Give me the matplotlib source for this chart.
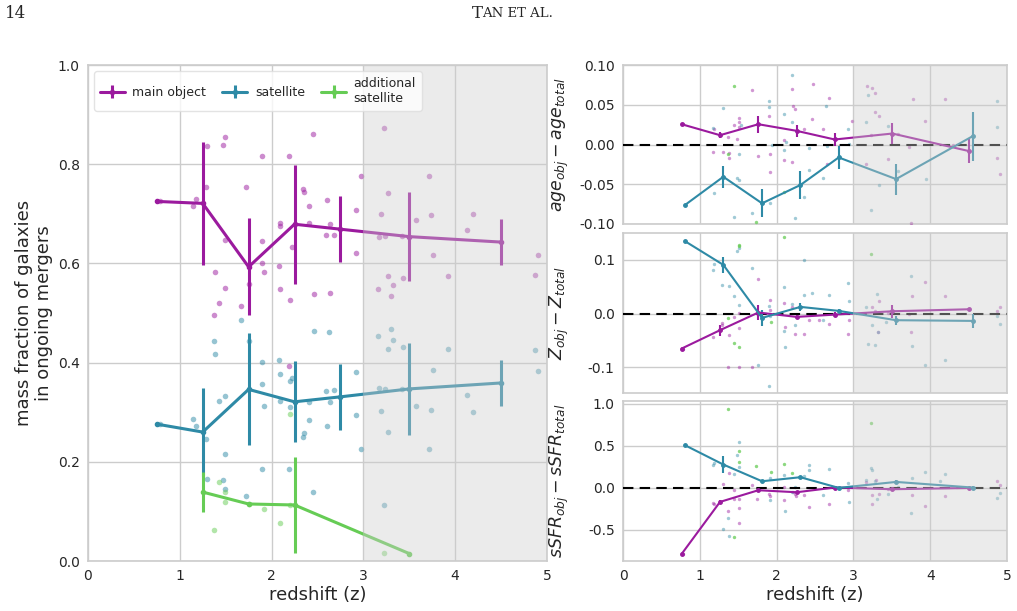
import numpy as np
import matplotlib
matplotlib.use("Agg")
import matplotlib.pyplot as plt
import seaborn as sns

sns.set_style("whitegrid")
plt.rcParams['font.family'] = ['DejaVu Sans']

C_MAIN = '#9b1a9e'
C_SAT = '#2e8aa6'
C_ADD = '#66cc55'

# ---------------- left panel: mass fraction ----------------
z_bins = [0.75, 1.25, 1.75, 2.25, 2.75, 3.5, 4.5]
main_frac = [0.725, 0.721, 0.593, 0.679, 0.669, 0.654, 0.643]
main_frac_err = [0.0, 0.124, 0.098, 0.12, 0.066, 0.089, 0.047]
sat_frac = [0.276, 0.260, 0.346, 0.321, 0.331, 0.347, 0.359]
sat_frac_err = [0.0, 0.088, 0.113, 0.082, 0.067, 0.092, 0.047]
add_z = [1.25, 1.75, 2.25, 3.5]
add_frac = [0.139, 0.115, 0.113, 0.015]
add_frac_err = [0.041, 0.003, 0.096, 0.0]

main_pts_z = [0.784, 1.176, 1.147, 1.293, 1.489, 1.474, 1.282, 1.725, 1.899, 2.193, 2.447, 3.224,
              2.97, 3.718, 3.27, 2.346, 2.357, 2.404, 2.6, 2.923, 3.19, 3.74, 3.573, 4.198, 4.128,
              2.091, 2.091, 2.407, 2.636, 2.593, 2.68, 3.166, 3.232, 3.424, 1.492, 1.892, 2.226,
              2.916, 3.761, 4.898, 4.873, 1.899, 1.913, 2.08, 1.387, 1.496, 1.431, 1.376, 1.663,
              1.75, 2.091, 2.196, 2.465, 2.632, 3.162, 3.268, 3.435, 3.322, 3.304, 3.925, 2.193]
main_pts_f = [0.725, 0.729, 0.716, 0.837, 0.855, 0.838, 0.755, 0.754, 0.817, 0.816, 0.861, 0.872,
              0.776, 0.776, 0.741, 0.751, 0.743, 0.716, 0.728, 0.708, 0.700, 0.697, 0.688, 0.700, 0.667,
              0.681, 0.676, 0.681, 0.680, 0.658, 0.657, 0.653, 0.655, 0.655, 0.647, 0.645, 0.633,
              0.620, 0.616, 0.617, 0.576, 0.600, 0.583, 0.595, 0.583, 0.550, 0.521, 0.497, 0.515,
              0.558, 0.548, 0.526, 0.538, 0.540, 0.548, 0.575, 0.570, 0.556, 0.534, 0.575, 0.394]
sat_pts_z = [1.663, 2.465, 2.629, 3.162, 3.304, 3.322, 3.268, 3.435, 3.925, 4.873, 4.898, 1.376,
             1.387, 1.75, 1.899, 2.08, 2.091, 1.892, 2.196, 2.226, 2.916, 3.761, 4.128, 4.198,
             3.166, 3.232, 3.424, 2.593, 2.68, 1.431, 1.496, 2.091, 1.913, 2.196, 2.407, 2.636,
             3.573, 3.74, 3.19, 2.923, 2.404, 2.6, 1.147, 1.176, 0.784, 1.282, 2.346, 2.357, 3.27,
             2.97, 3.718, 1.492, 1.899, 2.193, 1.293, 1.474, 1.489, 1.725, 2.447, 3.224]
sat_pts_f = [0.486, 0.463, 0.461, 0.453, 0.467, 0.446, 0.427, 0.431, 0.427, 0.425, 0.384, 0.443,
             0.417, 0.444, 0.402, 0.406, 0.378, 0.356, 0.362, 0.368, 0.381, 0.385, 0.334, 0.300,
             0.349, 0.346, 0.346, 0.343, 0.344, 0.322, 0.333, 0.322, 0.3125, 0.310, 0.321, 0.321,
             0.313, 0.304, 0.302, 0.294, 0.285, 0.273, 0.286, 0.273, 0.276, 0.247, 0.251, 0.258, 0.261,
             0.226, 0.226, 0.215, 0.185, 0.185, 0.165, 0.163, 0.146, 0.132, 0.140, 0.113]
add_pts_z = [1.431, 1.492, 1.496, 1.913, 2.196, 2.091, 1.376, 3.224, 2.196, 1.75]
add_pts_f = [0.159, 0.140, 0.118, 0.104, 0.297, 0.076, 0.062, 0.016, 0.113, 0.115]

# ---------------- right panels ----------------
z_main_r = [0.764, 1.263, 1.762, 2.26, 2.756, 3.507, 4.51]
z_sat_r = [0.807, 1.306, 1.81, 2.309, 2.808, 3.555, 4.553]

age_main = [0.0255, 0.0117, 0.0255, 0.0172, 0.0063, 0.0138, -0.0084]
age_main_err = [0.0, 0.0038, 0.0105, 0.0077, 0.008, 0.0134, 0.015]
age_sat = [-0.0761, -0.0406, -0.074, -0.051, -0.0163, -0.0435, 0.0105]
age_sat_err = [0.0, 0.0136, 0.0178, 0.0178, 0.015, 0.0195, 0.031]

Z_main = [-0.0652, -0.031, 0.0019, -0.0062, -0.002, 0.0043, 0.008]
Z_main_err = [0.0, 0.010, 0.0134, 0.003, 0.004, 0.0124, 0.003]
Z_sat = [0.1348, 0.0907, -0.0081, 0.0124, 0.005, -0.0124, -0.0137]
Z_sat_err = [0.0, 0.015, 0.0155, 0.007, 0.004, 0.0084, 0.0124]

sfr_main = [-0.79, -0.171, -0.032, -0.056, 0.0, -0.02, -0.005]
sfr_main_err = [0.0, 0.02, 0.01, 0.01, 0.01, 0.01, 0.01]
sfr_sat = [0.504, 0.274, 0.075, 0.123, -0.004, 0.067, 0.0]
sfr_sat_err = [0.0, 0.10, 0.02, 0.01, 0.01, 0.02, 0.02]

age_pm_z = [1.168, 1.306, 1.18, 1.37, 1.378, 1.378, 1.45, 1.507, 1.51, 1.515, 1.49, 1.68, 1.762, 1.906,
            1.91, 1.91, 2.1, 2.1, 2.205, 2.21, 2.245, 2.205, 2.36, 2.48, 2.456, 2.6, 2.687, 2.65, 2.986,
            3.18, 3.237, 3.277, 3.277, 3.33, 3.17, 3.229, 3.446, 3.586, 3.724, 3.772, 3.934, 3.75,
            4.197, 4.297, 4.874, 4.905, 0.78]
age_pm_v = [-0.0092, -0.010, 0.020, 0.0096, -0.0105, -0.0167, 0.0243, 0.0335, 0.0284, 0.0217, 0.0075,
            0.0681, -0.0142, 0.036, -0.0125, -0.035, 0.0058, -0.020, 0.0702, 0.0485, 0.0452, -0.0226,
            0.020, 0.0765, 0.0318, 0.020, 0.059, -0.025, 0.029, 0.0736, 0.0706, 0.0648, 0.041, 0.0364,
            -0.0247, 0.0125, -0.0188, 0.013, -0.003, 0.0568, 0.029, -0.099, 0.0577, -0.001, -0.0167,
            -0.0376, 0.0255]
age_ps_z = [1.186, 1.306, 1.168, 1.45, 1.483, 1.51, 1.51, 1.533, 1.68, 1.906, 1.906, 1.91, 1.94, 2.1,
            2.1, 2.12, 2.205, 2.205, 2.245, 2.36, 2.418, 2.42, 2.6, 2.64, 2.65, 2.93, 2.937, 3.17, 3.19,
            3.33, 3.229, 3.446, 3.586, 3.94, 4.874, 4.874]
age_ps_v = [-0.0606, 0.046, 0.0209, -0.0907, -0.0418, -0.045, -0.0117, 0.0243, -0.086, 0.0543, 0.0477,
            -0.074, 0.0, 0.0385, -0.0075, 0.0033, 0.0874, 0.0284, -0.092, -0.066, -0.005, -0.0326,
            -0.0418, 0.048, -0.002, 0.0192, 0.001, 0.0284, 0.0619, -0.051, -0.0823, 0.023, -0.0334,
            -0.0435, 0.0543, 0.0217]
age_pa_z = [1.445, 1.37, 1.73, 2.1]
age_pa_v = [0.0736, -0.0117, -0.0974, -0.0594]

Z_pm_z = [1.168, 1.285, 1.29, 1.45, 1.378, 1.51, 1.51, 1.507, 1.37, 1.68, 1.762, 1.91, 1.91, 2.1, 2.11,
          2.205, 2.245, 2.36, 2.418, 2.55, 2.687, 2.93, 2.937, 3.24, 3.277, 3.33, 3.325, 3.446, 3.724,
          3.768, 3.75, 3.934, 4.197, 4.874, 4.905, 0.78]
Z_pm_v = [-0.043, -0.018, -0.022, -0.0056, -0.040, -0.027, 0.0006, -0.0988, -0.100, -0.0994, 0.064,
          0.0255, 0.0068, 0.0205, -0.0248, 0.013, -0.039, -0.0385, -0.0124, -0.0124, -0.0193, -0.0385,
          -0.0118, 0.0118, 0.005, 0.0236, -0.0348, 0.0006, -0.001, 0.0335, -0.034, 0.0596, 0.0323,
          0.0043, 0.0118, -0.0652]
Z_ps_z = [1.168, 1.19, 1.285, 1.378, 1.45, 1.49, 1.507, 1.51, 1.68, 1.762, 1.906, 1.906, 1.91, 2.1, 2.1,
          2.11, 2.205, 2.245, 2.36, 2.36, 2.456, 2.6, 2.687, 2.93, 2.937, 3.17, 3.19, 3.277, 3.31, 3.325,
          3.24, 3.43, 3.75, 3.768, 3.934, 4.197, 4.874, 4.905]
Z_ps_v = [0.0814, 0.093, 0.0528, 0.0516, 0.033, 0.117, 0.123, 0.016, 0.085, -0.0963, 0.0143, -0.135,
          -0.004, 0.0497, -0.032, -0.062, 0.0174, -0.021, 0.1006, 0.0348, 0.039, -0.0124, 0.034, 0.0565,
          0.0242, 0.013, -0.057, -0.058, 0.037, -0.034, -0.022, -0.015, 0.070, -0.060, -0.096, -0.0857,
          -0.004, -0.0186]
Z_pa_z = [1.51, 1.51, 2.1, 1.37, 1.45, 1.51, 1.93, 3.229]
Z_pa_v = [0.128, 0.126, 0.143, -0.008, -0.054, -0.062, -0.0155, 0.1106]

sfr_pm_z = [0.78, 1.168, 1.19, 1.306, 1.374, 1.37, 1.445, 1.45, 1.507, 1.51, 1.515, 1.68, 1.74, 1.906,
            1.91, 2.1, 2.1, 2.21, 2.245, 2.25, 2.36, 2.418, 2.687, 2.93, 3.17, 3.237, 3.24, 3.29, 3.33,
            3.446, 3.768, 3.934, 4.197, 4.874, 4.905]
sfr_pm_v = [-0.79, -0.183, -0.198, 0.048, 0.175, -0.274, -0.032, -0.139, -0.417, -0.238, -0.131, 0.036,
            -0.131, -0.079, -0.099, 0.008, -0.143, -0.052, -0.079, -0.10, -0.09, -0.234, -0.19, -0.032,
            0.067, -0.083, -0.19, 0.087, -0.071, -0.012, -0.083, -0.222, -0.10, 0.075, 0.036]
sfr_ps_z = [1.168, 1.19, 1.306, 1.378, 1.37, 1.45, 1.483, 1.507, 1.51, 1.91, 1.91, 2.1, 2.11, 2.205,
            2.245, 2.36, 2.418, 2.42, 2.6, 2.687, 2.937, 2.93, 3.17, 3.229, 3.237, 3.277, 3.31, 3.446,
            3.586, 3.75, 3.768, 3.934, 4.13, 4.197, 4.874, 4.905]
sfr_ps_v = [0.266, 0.29, -0.488, -0.575, -0.361, 0.167, 0.385, 0.544, 0.246, 0.115, -0.147, 0.147,
            -0.28, -0.05, 0.008, 0.139, 0.206, 0.274, -0.09, 0.218, -0.17, 0.06, 0.087, 0.234, 0.206,
            0.083, -0.139, -0.071, 0.008, -0.306, 0.115, 0.187, 0.075, 0.167, -0.123, -0.063]
sfr_pa_z = [1.37, 1.507, 1.515, 1.45, 1.73, 1.93, 2.1, 2.205, 3.229]
sfr_pa_v = [0.94, 0.433, 0.306, -0.583, 0.262, 0.187, 0.286, 0.179, 0.774]

# ---------------- figure ----------------
fig = plt.figure(figsize=(10.17, 6.11), dpi=100)
axL = fig.add_axes([0.0865, 0.0818, 0.4513, 0.8118])
axR = [fig.add_axes([0.6126, 0.6334, 0.3776, 0.2602]),
       fig.add_axes([0.6126, 0.3568, 0.3776, 0.2618]),
       fig.add_axes([0.6126, 0.0818, 0.3776, 0.2618])]

GRID = '#cccccc'


def style(ax):
    ax.set_xlim(0, 5)
    ax.set_xticks([0, 1, 2, 3, 4, 5])
    ax.grid(True, color=GRID, lw=1.0)
    for s in ax.spines.values():
        s.set_color(GRID)
        s.set_linewidth(1.2)
    ax.tick_params(labelsize=10, colors='#262626', length=0, pad=6)
    ax.axvspan(3, 5, color='#cdcdcd', alpha=0.4, zorder=20, lw=0)


# left
style(axL)
axL.set_ylim(0, 1)
axL.set_yticks([0, 0.2, 0.4, 0.6, 0.8, 1.0])
axL.scatter(main_pts_z, main_pts_f, s=16, color=C_MAIN, alpha=0.5, lw=0, zorder=3)
axL.scatter(sat_pts_z, sat_pts_f, s=16, color=C_SAT, alpha=0.5, lw=0, zorder=3)
axL.scatter(add_pts_z, add_pts_f, s=16, color=C_ADD, alpha=0.5, lw=0, zorder=3)
h1 = axL.errorbar(z_bins, main_frac, yerr=main_frac_err, color=C_MAIN, lw=2.2, elinewidth=2.2,
                  marker='o', ms=3, capsize=0, zorder=5, label='main object')
h2 = axL.errorbar(z_bins, sat_frac, yerr=sat_frac_err, color=C_SAT, lw=2.2, elinewidth=2.2,
                  marker='o', ms=3, capsize=0, zorder=5, label='satellite')
h3 = axL.errorbar(add_z, add_frac, yerr=add_frac_err, color=C_ADD, lw=2.2, elinewidth=2.2,
                  marker='o', ms=3, capsize=0, zorder=5, label='additional\nsatellite')
axL.set_xlabel('redshift (z)', fontsize=13, color='#262626', labelpad=2)
axL.set_ylabel('mass fraction of galaxies\nin ongoing mergers', fontsize=13, color='#262626', labelpad=3)
leg = axL.legend(loc='upper left', ncol=3, fontsize=9, frameon=True, fancybox=True,
                 borderaxespad=0.5, handlelength=2.0, columnspacing=1.3, handletextpad=0.6,
                 borderpad=0.45)
leg.get_frame().set_edgecolor('#dddddd')
leg.set_zorder(30)
for t in leg.get_texts():
    t.set_color('#262626')

# right
def rpanel(ax, ylim, yticks, fmt, ylabel, m, me, s, se, pm, ps, pa):
    style(ax)
    ax.set_ylim(*ylim)
    ax.set_yticks(yticks)
    ax.set_yticklabels([fmt % v if abs(v) > 1e-9 else fmt % 0 for v in yticks])
    ax.axhline(0, color='black', ls='--', lw=1.5, dashes=(5, 3), zorder=4)
    ax.scatter(*pm, s=6, color=C_MAIN, alpha=0.45, lw=0, zorder=3)
    ax.scatter(*ps, s=6, color=C_SAT, alpha=0.45, lw=0, zorder=3)
    ax.scatter(*pa, s=6, color=C_ADD, alpha=0.75, lw=0, zorder=3)
    ax.errorbar(z_main_r, m, yerr=me, color=C_MAIN, lw=1.5, elinewidth=1.5, marker='o', ms=2.5,
                capsize=0, zorder=6)
    ax.errorbar(z_sat_r, s, yerr=se, color=C_SAT, lw=1.5, elinewidth=1.5, marker='o', ms=2.5,
                capsize=0, zorder=6)
    ax.set_ylabel(ylabel, fontsize=12.5, color='#262626', labelpad=2)


rpanel(axR[0], (-0.1, 0.1), [-0.10, -0.05, 0.0, 0.05, 0.10], '%.2f',
       r'$age_{obj}-age_{total}$', age_main, age_main_err, age_sat, age_sat_err,
       (age_pm_z, age_pm_v), (age_ps_z, age_ps_v), (age_pa_z, age_pa_v))
rpanel(axR[1], (-0.148, 0.15), [-0.1, 0.0, 0.1], '%.1f',
       r'$Z_{obj}-Z_{total}$', Z_main, Z_main_err, Z_sat, Z_sat_err,
       (Z_pm_z, Z_pm_v), (Z_ps_z, Z_ps_v), (Z_pa_z, Z_pa_v))
rpanel(axR[2], (-0.875, 1.03), [-0.5, 0.0, 0.5, 1.0], '%.1f',
       r'$sSFR_{obj}-sSFR_{total}$', sfr_main, sfr_main_err, sfr_sat, sfr_sat_err,
       (sfr_pm_z, sfr_pm_v), (sfr_ps_z, sfr_ps_v), (sfr_pa_z, sfr_pa_v))
for ax in axR:
    ax.tick_params(axis='x', labelbottom=False)
axR[2].tick_params(axis='x', labelbottom=True)
axR[2].set_xlabel('redshift (z)', fontsize=13, color='#262626', labelpad=2)
for ax in axR:
    ax.yaxis.set_label_coords(-0.135, 0.5)

# page header
fig.text(0.005, 0.978, '14', fontsize=12, family='DejaVu Serif', va='center', ha='left')
fig.text(0.4745, 0.978, 'T', fontsize=12, family='DejaVu Serif', va='center', ha='right')
fig.text(0.4745, 0.978, 'AN ET AL.', fontsize=9.5, family='DejaVu Serif', va='center', ha='left')

fig.savefig('out.png', dpi=100)
